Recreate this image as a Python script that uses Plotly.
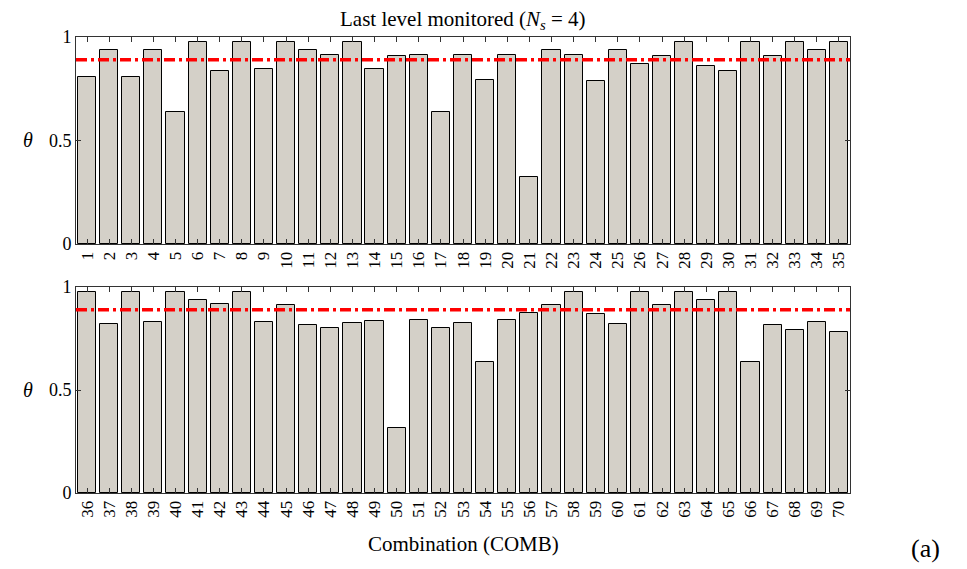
import plotly.graph_objects as go

combos_top = [str(i) for i in range(1, 36)]
theta_top = [0.807, 0.939, 0.807, 0.939, 0.636, 0.977, 0.837, 0.978, 0.847, 0.977,
             0.935, 0.913, 0.978, 0.847, 0.906, 0.913, 0.636, 0.913, 0.794, 0.913,
             0.324, 0.939, 0.913, 0.789, 0.939, 0.870, 0.908, 0.978, 0.861, 0.837,
             0.978, 0.908, 0.978, 0.935, 0.978]
combos_bot = [str(i) for i in range(36, 71)]
theta_bot = [0.976, 0.820, 0.976, 0.830, 0.976, 0.935, 0.917, 0.976, 0.830, 0.913,
             0.816, 0.801, 0.825, 0.833, 0.317, 0.841, 0.801, 0.825, 0.636, 0.841,
             0.874, 0.911, 0.976, 0.869, 0.820, 0.976, 0.911, 0.976, 0.935, 0.976,
             0.636, 0.816, 0.790, 0.832, 0.783]
threshold = 0.89
y_ticks = [0, 0.5, 1]
y_ticktext = ["0", "0.5", "1"]

FONT = "Liberation Serif"
BAR_FILL = "#d4d0c8"
W, H = 967, 569

fig = go.Figure()
fig.add_trace(go.Bar(x=combos_top, y=theta_top, xaxis="x", yaxis="y",
                     marker=dict(color=BAR_FILL, line=dict(color="black", width=1)),
                     width=0.82, showlegend=False))
fig.add_trace(go.Bar(x=combos_bot, y=theta_bot, xaxis="x2", yaxis="y2",
                     marker=dict(color=BAR_FILL, line=dict(color="black", width=1)),
                     width=0.82, showlegend=False))

x0, x1 = 76 / W, 850 / W
top_dom = [1 - 244 / H, 1 - 37 / H]
bot_dom = [1 - 493 / H, 1 - 287 / H]

axis_common = dict(showline=True, linecolor="#333333", linewidth=1, mirror="ticks",
                   ticks="inside", ticklen=5, tickcolor="#333333", showgrid=False,
                   zeroline=False, automargin=False)
xfont = dict(family=FONT, size=17, color="black")
yfont = dict(family=FONT, size=18, color="black")

fig.update_layout(
    width=W, height=H, margin=dict(l=0, r=0, t=0, b=0),
    font=dict(family=FONT, color="black"),
    paper_bgcolor="white", plot_bgcolor="white", bargap=0,
    xaxis=dict(domain=[x0, x1], anchor="y", type="category", tickangle=-90,
               range=[-0.5, 34.5], tickfont=xfont, **axis_common),
    yaxis=dict(domain=top_dom, anchor="x", range=[0, 1], tickvals=y_ticks,
               ticktext=y_ticktext, tickfont=yfont, **axis_common),
    xaxis2=dict(domain=[x0, x1], anchor="y2", type="category", tickangle=-90,
                range=[-0.5, 34.5], tickfont=xfont, **axis_common),
    yaxis2=dict(domain=bot_dom, anchor="x2", range=[0, 1], tickvals=y_ticks,
                ticktext=y_ticktext, tickfont=yfont, **axis_common),
)

for xr, yr in (("x domain", "y"), ("x2 domain", "y2")):
    fig.add_shape(type="line", xref=xr, yref=yr, x0=0, x1=1, y0=threshold, y1=threshold,
                  line=dict(color="#ff0000", width=3.5, dash="11px,4px,3px,4px"))

ann = [
    ("Last level monitored (<i>N<sub>s</sub></i> = 4)", (x0 + x1) / 2, 1 - 20 / H, 21),
    ("<i>θ</i>", 28 / W, 1 - 140 / H, 20),
    ("<i>θ</i>", 28 / W, 1 - 390 / H, 20),
    ("Combination (COMB)", (x0 + x1) / 2, 1 - 544 / H, 21),
    ("(a)", 925 / W, 1 - 548 / H, 26),
]
for text, x, y, size in ann:
    fig.add_annotation(xref="paper", yref="paper", showarrow=False,
                       xanchor="center", yanchor="middle",
                       text=text, x=x, y=y,
                       font=dict(family=FONT, color="black", size=size))

fig.write_html("out.html")
